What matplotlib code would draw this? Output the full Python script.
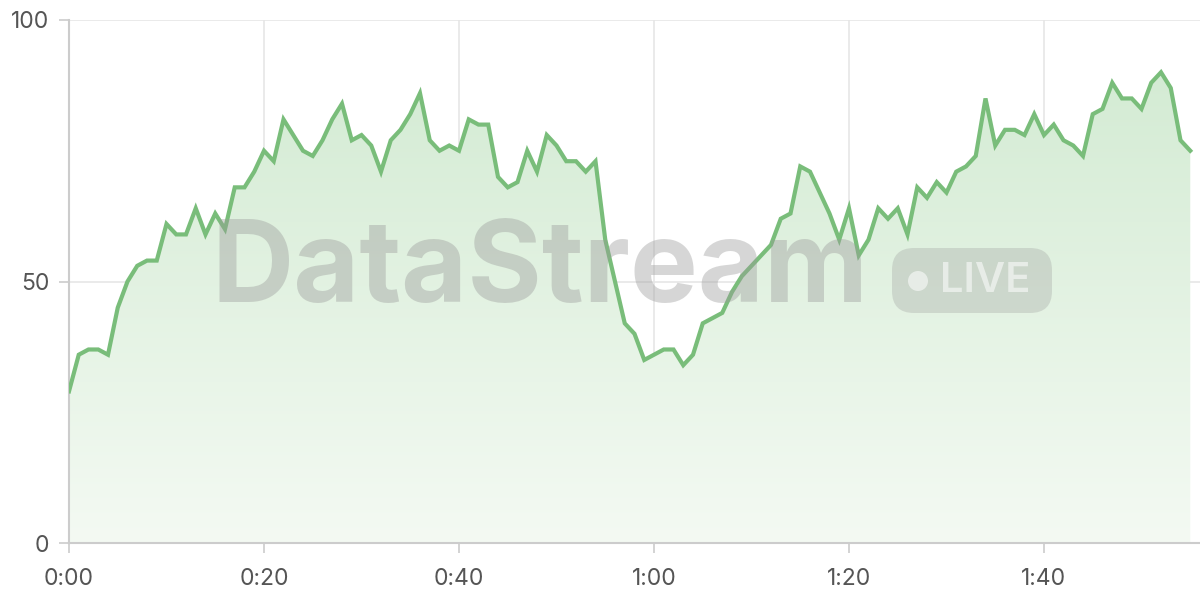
import matplotlib
matplotlib.use("Agg")
import matplotlib.pyplot as plt
from matplotlib.patches import FancyBboxPatch, Circle
from matplotlib.transforms import IdentityTransform
from matplotlib.colors import LinearSegmentedColormap
import numpy as np

# one reading per second, 0:00 .. 1:55
secs = list(range(116))
vals = [29, 36, 37, 37, 36, 45, 50, 53, 54, 54,
        61, 59, 59, 64, 59, 63, 60, 68, 68, 71,
        75, 73, 81, 78, 75, 74, 77, 81, 84, 77,
        78, 76, 71, 77, 79, 82, 86, 77, 75, 76,
        75, 81, 80, 80, 70, 68, 69, 75, 71, 78,
        76, 73, 73, 71, 73, 58, 50, 42, 40, 35,
        36, 37, 37, 34, 36, 42, 43, 44, 48, 51,
        53, 55, 57, 62, 63, 72, 71, 67, 63, 58,
        64, 55, 58, 64, 62, 64, 59, 68, 66, 69,
        67, 71, 72, 74, 85, 76, 79, 79, 78, 82,
        78, 80, 77, 76, 74, 82, 83, 88, 85, 85,
        83, 88, 90, 87, 77, 75]
xticks = [0, 20, 40, 60, 80, 100]
xlabels = ["0:00", "0:20", "0:40", "1:00", "1:20", "1:40"]
yticks = [0, 50, 100]

line_col = "#79bd7a"
grid_col = "#e6e6e6"
axis_col = "#cccccc"
text_col = "#555555"

fig = plt.figure(figsize=(12, 6), dpi=100)
ax = fig.add_axes([69/1200, 57/600, 1 - 69/1200, 523/600])
ax.set_xlim(0, 116)
ax.set_ylim(0, 100)

# gradient fill under the line
poly = ax.fill_between(secs, vals, 0, facecolor="none", edgecolor="none")
grad = np.linspace(0, 1, 256).reshape(-1, 1)
cmap = LinearSegmentedColormap.from_list("g", ["#f4faf3", "#d3ebd3"])
im = ax.imshow(grad, cmap=cmap, aspect="auto", extent=[0, 116, 0, 92],
               origin="lower", zorder=1)
im.set_clip_path(poly.get_paths()[0], transform=ax.transData)

ax.plot(secs, vals, color=line_col, lw=3, zorder=3, solid_joinstyle="miter")

ax.set_xticks(xticks)
ax.set_xticklabels(xlabels)
ax.set_yticks(yticks)
ax.grid(True, color=grid_col, lw=1.2, zorder=0)
ax.set_axisbelow(True)
for s in ["top", "right"]:
    ax.spines[s].set_visible(False)
for s in ["left", "bottom"]:
    ax.spines[s].set_color(axis_col)
    ax.spines[s].set_linewidth(1.5)
ax.tick_params(axis="both", colors=axis_col, labelcolor=text_col,
               labelsize=16.5, length=7, width=1.2)
ax.tick_params(axis="x", pad=11)
ax.tick_params(axis="y", pad=7)
for lab in ax.get_xticklabels() + ax.get_yticklabels():
    lab.set_family("Inter")

# watermark (pixel coordinates, origin bottom-left)
fig.text(540/1200, 1 - 272/600, "DataStream", fontsize=82, fontweight="bold",
         family="Inter", color="#9a9a9a", alpha=0.4, ha="center", va="center",
         zorder=5)
px = IdentityTransform()
badge = FancyBboxPatch((892, 600 - 313), 160, 65,
                       boxstyle="round,pad=0,rounding_size=22",
                       transform=px, facecolor="#9a9a9a",
                       alpha=0.3, edgecolor="none", zorder=5)
fig.add_artist(badge)
fig.add_artist(Circle((918, 600 - 281), 10, transform=px,
                      facecolor="white", alpha=0.55, edgecolor="none", zorder=6))
fig.text(985/1200, 1 - 281/600, "LIVE", fontsize=30, fontweight="semibold",
         family="Inter", color="white", alpha=0.55, ha="center", va="center",
         zorder=6)

fig.savefig("out.png", dpi=100)
